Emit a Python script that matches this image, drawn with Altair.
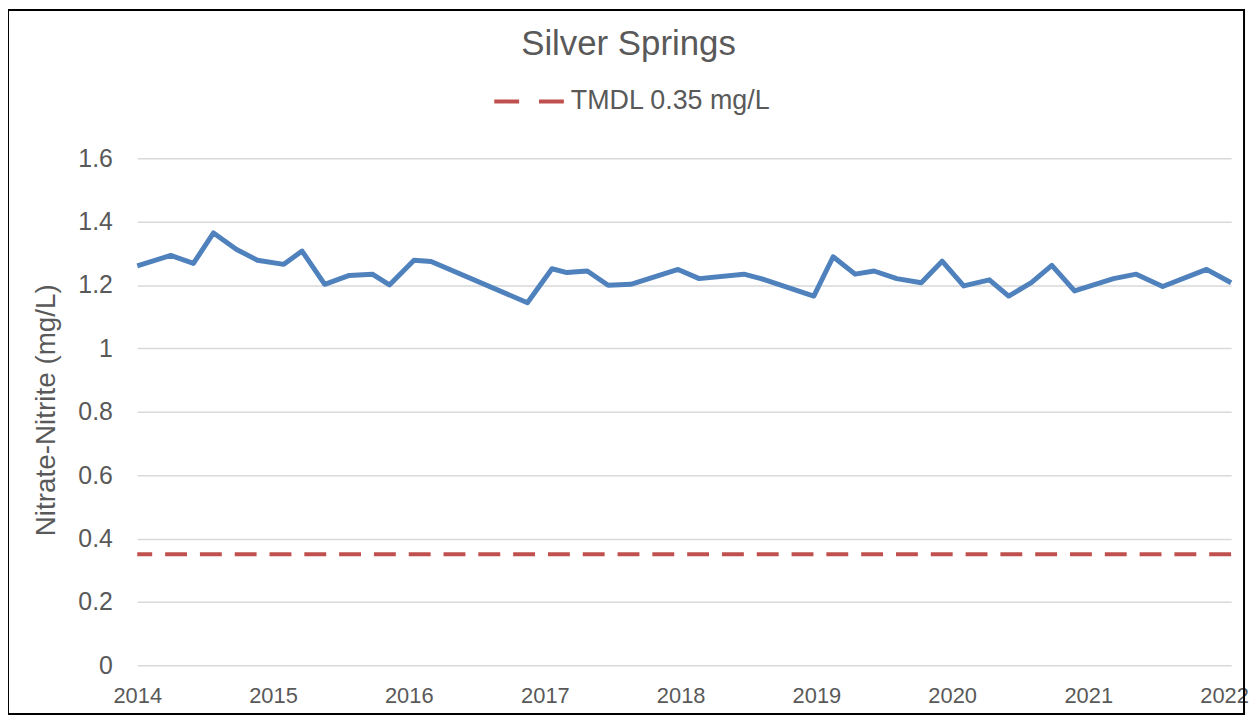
import altair as alt
import pandas as pd

dates = ["2014-01-01", "2014-04-01", "2014-06-01", "2014-07-25", "2014-09-25", "2014-11-20",
         "2015-01-30", "2015-03-20", "2015-05-20", "2015-07-25", "2015-09-25", "2015-11-10",
         "2016-01-15", "2016-03-01", "2016-11-15", "2017-01-20", "2017-03-01", "2017-04-25",
         "2017-06-20", "2017-08-20", "2017-12-25", "2018-02-20", "2018-06-20", "2018-08-05",
         "2018-12-25", "2019-02-15", "2019-04-15", "2019-06-05", "2019-08-05", "2019-10-10",
         "2019-12-05", "2020-02-01", "2020-04-10", "2020-06-01", "2020-08-01", "2020-09-25",
         "2020-11-25", "2021-03-10", "2021-05-10", "2021-07-20", "2021-11-15", "2022-01-20"]
nitrate = [1.260, 1.293, 1.268, 1.364, 1.312, 1.278, 1.265, 1.307, 1.202, 1.230, 1.234, 1.200,
           1.278, 1.274, 1.144, 1.251, 1.239, 1.244, 1.199, 1.202, 1.249, 1.220, 1.234, 1.220,
           1.165, 1.289, 1.234, 1.244, 1.220, 1.207, 1.275, 1.197, 1.216, 1.165, 1.207, 1.262,
           1.181, 1.220, 1.234, 1.195, 1.249, 1.207]
tmdl_label = ["TMDL 0.35 mg/L"]
tmdl_value = [0.35]
y_ticks = [0, 0.2, 0.4, 0.6, 0.8, 1.0, 1.2, 1.4, 1.6]
x_years = [2014, 2015, 2016, 2017, 2018, 2019, 2020, 2021, 2022]
title_text = "Silver Springs"

df = pd.DataFrame({"date": dates, "value": nitrate})
tm = pd.DataFrame({"label": tmdl_label, "value": tmdl_value})

FONT = "Liberation Sans"
GRAY = "#595959"

x_enc = alt.X(
    "date:T",
    scale=alt.Scale(type="utc", domain=[alt.DateTime(year=2014, month=1, date=1, utc=True),
                                        alt.DateTime(year=2022, month=1, date=20, utc=True)]),
    axis=alt.Axis(values=[alt.DateTime(year=y, month=1, date=1, utc=True) for y in x_years],
                  format="%Y", title=None, grid=False, domain=False, ticks=False,
                  labelFontSize=22, labelColor=GRAY, labelFont=FONT, labelPadding=20,
                  labelFlush=False),
)
y_enc = alt.Y(
    "value:Q",
    scale=alt.Scale(domain=[0, 1.6]),
    axis=alt.Axis(values=y_ticks, format="~g", title="Nitrate-Nitrite (mg/L)",
                  titleFontSize=28, titleFontWeight="normal", titleColor=GRAY, titleFont=FONT,
                  titleX=-91, titleY=253, titleAngle=270, titleBaseline="middle",
                  grid=True, gridColor="#D9D9D9", gridWidth=1.5, domain=False, ticks=False,
                  labelFontSize=25, labelColor=GRAY, labelFont=FONT, labelPadding=25),
)

line = alt.Chart(df).mark_line(color="#4F81BD", strokeWidth=5, strokeJoin="round").encode(
    x=x_enc, y=y_enc
)

rule = alt.Chart(tm).mark_rule(strokeWidth=4, strokeDash=[22, 13]).encode(
    y=alt.Y("value:Q"),
    color=alt.Color("label:N", scale=alt.Scale(domain=tmdl_label, range=["#C0504D"]),
                    legend=alt.Legend(title=None, orient="none", legendX=357, legendY=-94,
                                      symbolType="stroke", symbolSize=4900, symbolStrokeWidth=4,
                                      symbolDash=[25, 20], labelFontSize=27, labelColor=GRAY,
                                      labelFont=FONT, labelOffset=5, labelLimit=0)),
)

frame = alt.Chart(pd.DataFrame({"a": [0]})).mark_rect(fill="transparent", stroke="black",
                                                       strokeWidth=2).encode(
    x=alt.value(-130), x2=alt.value(1113), y=alt.value(-149), y2=alt.value(559)
)

title = alt.Chart(pd.DataFrame({"t": [title_text]})).mark_text(
    font=FONT, fontSize=35, color=GRAY, align="center", baseline="middle"
).encode(x=alt.value(494), y=alt.value(-115), text="t:N")

chart = alt.layer(frame, title, rule, line).properties(
    width=1100, height=510,
    padding={"left": 130, "top": 149, "right": 18, "bottom": 51},
    autosize=alt.AutoSizeParams(type="none"),
).configure_view(stroke=None).resolve_scale(color="independent")

chart.save("out.html", embed_options={"renderer": "svg", "actions": False})
